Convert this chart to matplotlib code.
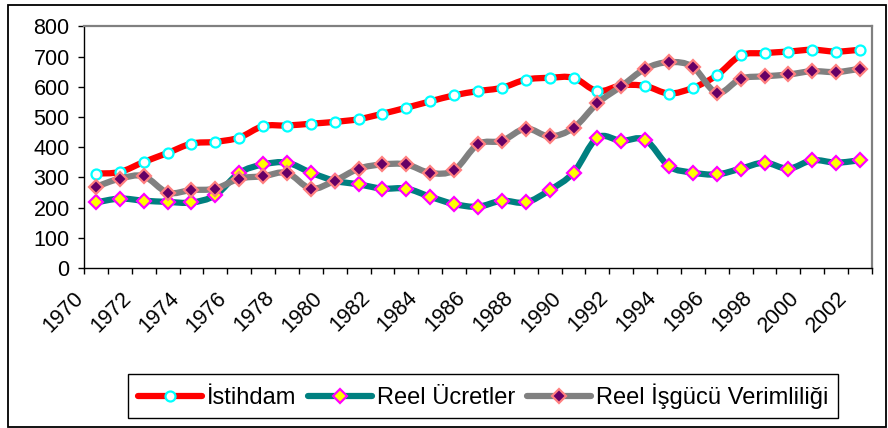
import matplotlib
matplotlib.use("Agg")
import matplotlib.pyplot as plt
from matplotlib.path import Path
from matplotlib.patches import PathPatch, Rectangle
from matplotlib.lines import Line2D
from matplotlib.transforms import ScaledTranslation

plt.rcParams['font.family'] = ['Liberation Sans', 'DejaVu Sans']

# data
years = list(range(1970, 2003))
istihdam = [313, 318, 351, 381, 412, 418, 432, 470, 472, 478, 484, 493, 511,
            531, 552, 572, 586, 597, 624, 630, 630, 586, 605, 603, 578, 597,
            638, 704, 712, 717, 723, 717, 723]
reel_ucretler = [217, 230, 223, 219, 217, 241, 315, 343, 349, 316, 289, 277,
                 263, 263, 236, 212, 203, 223, 217, 258, 316, 432, 421, 425,
                 337, 316, 310, 329, 349, 329, 357, 349, 357]
reel_verimlilik = [269, 296, 304, 250, 258, 263, 296, 304, 315, 263, 289, 329,
                   343, 343, 315, 324, 410, 421, 462, 436, 464, 546, 602, 660,
                   682, 666, 580, 627, 635, 641, 652, 649, 660]
series_names = ["İstihdam", "Reel Ücretler", "Reel İşgücü Verimliliği"]
y_ticks = [0, 100, 200, 300, 400, 500, 600, 700, 800]


def smooth_path(xs, ys, t=1/6):
    """Excel-like smoothed line as cubic Bezier segments through the points."""
    pts = list(zip(xs, ys))
    n = len(pts)
    verts = [pts[0]]
    codes = [Path.MOVETO]
    for i in range(n - 1):
        p0 = pts[max(i - 1, 0)]
        p1 = pts[i]
        p2 = pts[i + 1]
        p3 = pts[min(i + 2, n - 1)]
        c1 = (p1[0] + (p2[0] - p0[0]) * t, p1[1] + (p2[1] - p0[1]) * t)
        c2 = (p2[0] - (p3[0] - p1[0]) * t, p2[1] - (p3[1] - p1[1]) * t)
        verts += [c1, c2, p2]
        codes += [Path.CURVE4] * 3
    return Path(verts, codes)


fig = plt.figure(figsize=(8.88, 4.28), dpi=100)
ax = fig.add_axes([84 / 888, 1 - 268 / 428, (872 - 84) / 888, (268 - 26.5) / 428])

styles = [
    dict(color="#FF0000", marker="o", ms=7.2, mfc="white", mec="#00FFFF"),
    dict(color="#008080", marker="D", ms=6.8, mfc="#FFFF00", mec="#FF00FF"),
    dict(color="#808080", marker="D", ms=6.8, mfc="#660066", mec="#FF8080"),
]
handles = []
for k, (vals, st) in enumerate(zip([istihdam, reel_ucretler, reel_verimlilik], styles)):
    z = 2 + k * 2
    ax.add_patch(PathPatch(smooth_path(years, vals), fill=False, edgecolor=st["color"],
                           lw=4.5, capstyle="round", joinstyle="round", zorder=z))
    ax.plot(years, vals, linestyle="none", marker=st["marker"], ms=st["ms"],
            mfc=st["mfc"], mec=st["mec"], mew=1.6, zorder=z + 1)
    handles.append(Line2D([], [], color=st["color"], lw=4.5, marker=st["marker"],
                          ms=st["ms"], mfc=st["mfc"], mec=st["mec"], mew=1.6,
                          solid_capstyle="round"))

ax.set_xlim(years[0] - 0.5, years[-1] + 0.5)
ax.set_ylim(0, 800)
ax.set_yticks(y_ticks)
ax.set_xticks([y - 0.5 for y in years[::2]])
ax.set_xticklabels([str(y) for y in years[::2]], rotation=45, ha="right",
                   va="top", rotation_mode="anchor")
ax.set_xticks([y + 0.5 for y in years[::2]], minor=True)
ax.tick_params(axis="x", which="both", direction="out", length=4, width=1, pad=10,
               labelsize=15.5)
ax.tick_params(axis="y", direction="out", length=4.3, width=1, pad=6, labelsize=15.5)

# shift rotated year labels left so their ends sit under the ticks
shift = ScaledTranslation(-8 / 72, 0, fig.dpi_scale_trans)
for lbl in ax.get_xticklabels():
    lbl.set_transform(lbl.get_transform() + shift)

for s in ["left", "bottom"]:
    ax.spines[s].set_color("black")
    ax.spines[s].set_linewidth(1)
for s in ["top", "right"]:
    ax.spines[s].set_color("#808080")
    ax.spines[s].set_linewidth(1.6)

fig.legend(handles, series_names, loc="center", ncol=3,
           bbox_to_anchor=(483 / 888, 1 - 396 / 428), fontsize=17,
           handlelength=2.7, handletextpad=0.22, columnspacing=0.5,
           borderpad=0.4, fancybox=False, framealpha=1, edgecolor="black")

fig.patches.append(Rectangle((8 / 888, 1.5 / 428), (886 - 8) / 888, (427 - 5.5) / 428,
                             transform=fig.transFigure, fill=False,
                             edgecolor="black", lw=1.3))

fig.savefig("out.png", dpi=100)
